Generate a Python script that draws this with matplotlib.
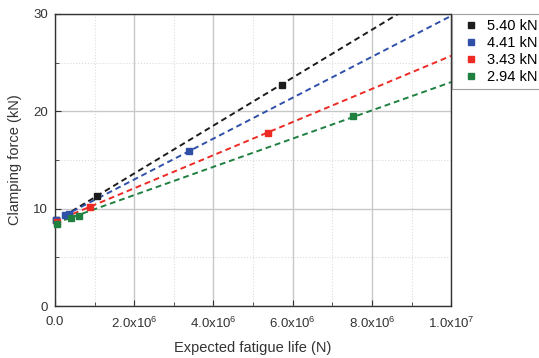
import numpy as np
import matplotlib
matplotlib.use('Agg')
import matplotlib.pyplot as plt
from matplotlib.ticker import MultipleLocator, FuncFormatter

plt.rcParams['font.family'] = ['Liberation Sans', 'DejaVu Sans']
plt.rcParams['mathtext.fontset'] = 'custom'
plt.rcParams['mathtext.rm'] = 'Liberation Sans'
plt.rcParams['mathtext.it'] = 'Liberation Sans'

# data
labels = ['5.40 kN', '4.41 kN', '3.43 kN', '2.94 kN']
colors = ['#1c1c1c', '#3050a8', '#ee2a24', '#1f8040']

life_540 = [0.02e6, 1.06e6, 5.72e6]
force_540 = [8.8, 11.3, 22.7]
life_441 = [0.02e6, 0.25e6, 0.35e6, 3.38e6]
force_441 = [8.8, 9.4, 9.5, 15.9]
life_343 = [0.05e6, 0.88e6, 5.38e6]
force_343 = [8.6, 10.2, 17.8]
life_294 = [0.05e6, 0.40e6, 0.60e6, 7.53e6]
force_294 = [8.4, 9.0, 9.3, 19.5]

# fitted lines (intercept kN, slope kN per cycle)
intercepts = [8.7, 8.8, 8.7, 8.5]
slopes = [2.46e-6, 2.10e-6, 1.70e-6, 1.45e-6]

lives = [life_540, life_441, life_343, life_294]
forces = [force_540, force_441, force_343, force_294]

fig = plt.figure(figsize=(5.39, 3.58), dpi=100)
ax = fig.add_axes([0.102, 0.145, 0.735, 0.816])

xs = np.array([0, 1e7])
for i in range(4):
	ax.plot(xs, intercepts[i] + slopes[i] * xs, color=colors[i], lw=1.4,
		dashes=(3, 2), zorder=3)
	ax.plot(lives[i], forces[i], 's', color=colors[i], ms=5, ls='none',
		label=labels[i], zorder=4, clip_on=False)

ax.set_xlim(0, 1e7)
ax.set_ylim(0, 30)
ax.xaxis.set_major_locator(MultipleLocator(2e6))
ax.xaxis.set_minor_locator(MultipleLocator(1e6))
ax.yaxis.set_major_locator(MultipleLocator(10))
ax.yaxis.set_minor_locator(MultipleLocator(5))

def fmt(v, pos):
	if v <= 0:
		return '0.0'
	e = int(np.floor(np.log10(v)))
	m = v / 10 ** e
	return '%.1fx10$^{%d}$' % (m, e)

ax.xaxis.set_major_formatter(FuncFormatter(fmt))

ax.grid(which='major', color='#c8c8c8', lw=1.0, ls='-')
ax.grid(which='minor', color='#dcdcdc', lw=0.8, ls=':')
ax.tick_params(which='both', direction='in', colors='#333333', labelsize=9.5,
	labelcolor='#333333')
ax.tick_params(which='major', length=4)
ax.tick_params(which='minor', length=3)
ax.tick_params(axis='x', pad=7)
ax.tick_params(axis='y', pad=5)
for s in ax.spines.values():
	s.set_color('#333333')
	s.set_linewidth(1.0)

ax.set_xlabel('Expected fatigue life (N)', fontsize=10.5, color='#333333', labelpad=7)
ax.set_ylabel('Clamping force (kN)', fontsize=10.5, color='#333333', labelpad=8)

leg = ax.legend(loc='upper left', bbox_to_anchor=(1.002, 1.0), borderaxespad=0,
	fontsize=10.5, frameon=True, fancybox=False, handletextpad=0.15,
	handlelength=1.9, labelspacing=0.2, borderpad=0.35)
leg.get_frame().set_edgecolor('#888888')
leg.get_frame().set_linewidth(0.8)

fig.savefig('out.png', dpi=100)
